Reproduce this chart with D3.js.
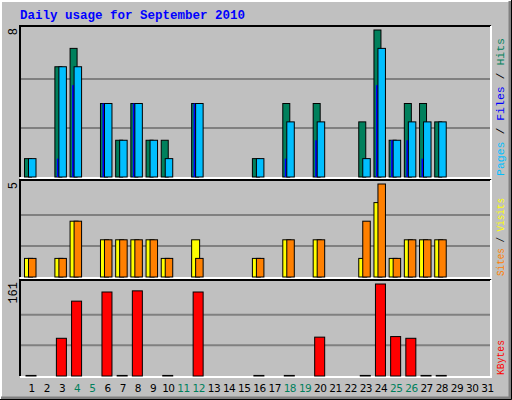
<!DOCTYPE html><html><head><script src="https://d3js.org/d3.v7.min.js"></script>
<style>body{margin:0;background:#fff}</style></head><body><svg width="512" height="400"></svg>
<script>
const days=d3.range(1,32);
const weekend=[4,5,11,12,18,19,25,26];
const hits =[1,0,6,7,0,4,2,4,2,2,0,4,0,0,0,1,0,4,0,4,0,0,3,8,2,4,4,3,0,0,0];
const files=[1,0,6,6,0,4,2,4,2,1,0,4,0,0,0,1,0,3,0,3,0,0,1,7,2,3,3,3,0,0,0];
const pages=[0,0,1,5,0,4,0,4,0,0,0,4,0,0,0,0,0,1,0,2,0,0,0,5,2,2,1,0,0,0,0];
const visits=[1,0,1,3,0,2,2,2,2,1,0,2,0,0,0,1,0,2,0,2,0,0,1,4,1,2,2,2,0,0,0];
const sites=[1,0,1,3,0,2,2,2,2,1,0,1,0,0,0,1,0,2,0,2,0,0,3,5,1,2,2,2,0,0,0];
const kbytes=[1,0,66,131,0,147,1,149,0,1,0,147,0,0,0,1,0,1,0,68,0,0,1,161,69,66,1,1,0,0,0];
const svg=d3.select("svg");const F="'Liberation Mono','DejaVu Sans Mono',monospace";
svg.append("rect").attr("width",512).attr("height",400).attr("fill","#c0c0c0");
svg.append("path").attr("d","M1,399V1H511").attr("stroke","#fff").attr("stroke-width",2).attr("fill","none");
svg.append("path").attr("d","M1,398H510V1").attr("stroke","#808080").attr("stroke-width",3).attr("fill","none");
svg.append("path").attr("d","M0,399.5H511.5V0").attr("stroke","#000").attr("fill","none");
svg.append("text").attr("x",20).attr("y",19).text("Daily usage for September 2010").attr("font-family",F).attr("font-weight","bold").attr("font-size",12.5).attr("fill","#0000ff");
const x=d3.scaleBand().domain(days).range([20,491]);
function panel(y0,y1,max,label,series,rlabels,len){
  svg.append("rect").attr("x",20).attr("y",y0).attr("width",471).attr("height",y1-y0).attr("fill","#c0c0c0");
  const y=d3.scaleLinear().domain([0,max]).range([y1,y0+4]);
  [1/3,2/3].forEach(f=>svg.append("line").attr("x1",20).attr("x2",491).attr("y1",y1-(y1-y0-4)*f).attr("y2",y1-(y1-y0-4)*f).attr("stroke","#808080").attr("stroke-width",2));
  svg.append("path").attr("d",`M20,${y1}V${y0}H491`).attr("stroke","#000").attr("fill","none").attr("stroke-width",2);
  svg.append("path").attr("d",`M20,${y1+1}H491V${y0}`).attr("stroke","#fff").attr("fill","none").attr("stroke-width",2);
  svg.append("text").attr("transform",`translate(17,${y0+2}) rotate(-90)`).attr("text-anchor","end").text(label).attr("font-family",F).attr("font-size",12);
  series.forEach(s=>{
    svg.append("g").selectAll("rect").data(s.data).join("rect")
     .attr("x",(d,i)=>x(days[i])+s.off).attr("width",s.w)
     .attr("y",d=>y(d)).attr("height",d=>y1-y(d)).attr("fill",s.c).attr("stroke",s.stroke?"#000":"none").attr("stroke-width",1)
     .attr("display",d=>d>0?null:"none");
  });
  const t=svg.append("text").attr("transform",`translate(504,${y1-1}) rotate(-90)`).attr("font-family",F).attr("font-size",11)
    .attr("textLength",len).attr("lengthAdjust","spacingAndGlyphs");
  rlabels.forEach((r,i)=>{if(i)t.append("tspan").text(" / ").attr("fill","#000");t.append("tspan").text(r[0]).attr("fill",r[1]);});
}
panel(26,177,8,"8",[{data:hits,off:4.5,w:7,c:"#00805c",stroke:1},{data:pages,off:6.5,w:2,c:"#0000ff"},{data:files,off:8.5,w:7.5,c:"#00bfff",stroke:1}],[["Pages","#00bfff"],["Files","#0000ff"],["Hits","#00805c"]],138);
panel(180,277,5,"5",[{data:visits,off:4.5,w:8,c:"#ffff00",stroke:1},{data:sites,off:8.5,w:7.5,c:"#ff8000",stroke:1}],[["Sites","#ff8000"],["Visits","#ffff00"]],78);
panel(280,376,161,"161",[{data:kbytes,off:6,w:10,c:"#ff0000",stroke:1}],[["KBytes","#ff0000"]],35);
svg.append("g").selectAll("text").data(days).join("text").attr("x",d=>x(d)+x.bandwidth()/2+4).attr("y",392).attr("text-anchor","middle")
 .text(d=>d).attr("font-family","'DejaVu Sans',sans-serif").attr("font-size",10.5).attr("letter-spacing",-0.5).attr("fill",d=>weekend.includes(d)?"#00805c":"#000");
</script></body></html>
